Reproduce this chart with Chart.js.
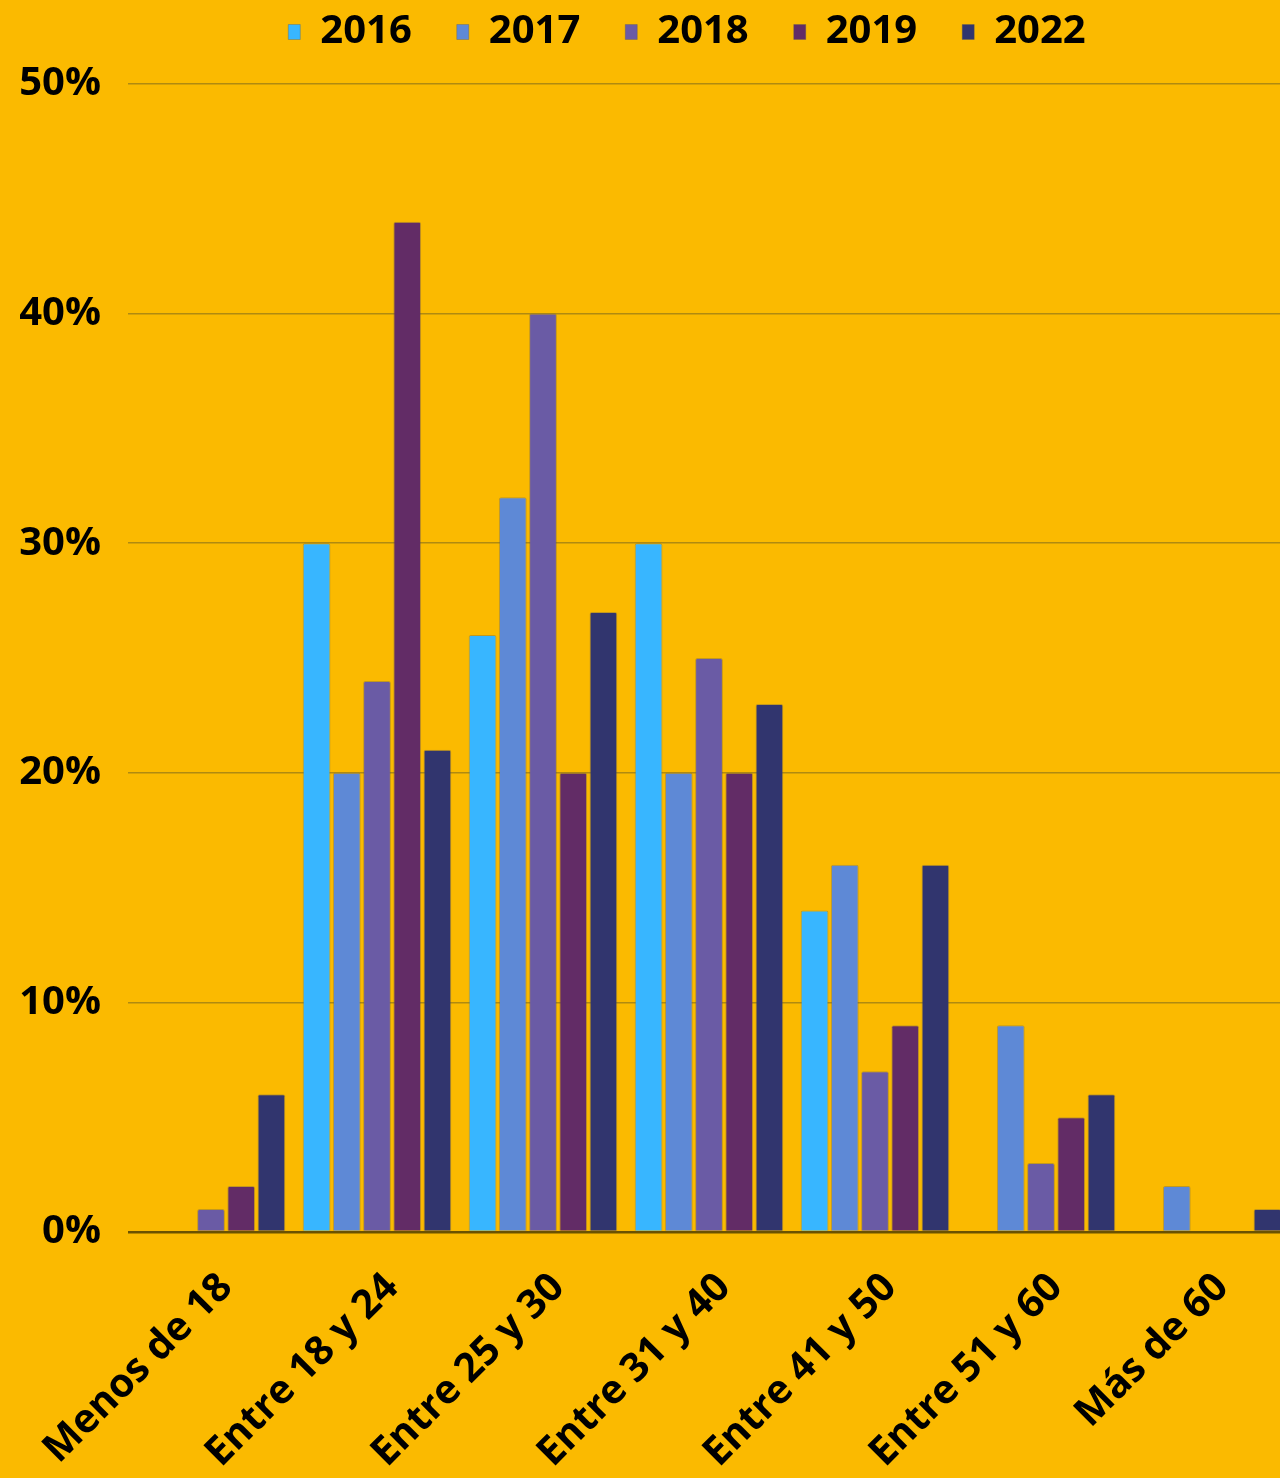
<!DOCTYPE html>
<html>
<head>
<meta charset="utf-8">
<script src="https://cdn.jsdelivr.net/npm/chart.js@4/dist/chart.umd.min.js"></script>
<style>
  html, body { margin:0; padding:0; background:#FBBA00; overflow:hidden; }
  #wrap { position:relative; width:1292px; height:1478px; }
</style>
</head>
<body>
<div id="wrap"><canvas id="grafica"></canvas></div>
<script>
// categorias de edad
const categorias = ['Menos de 18','Entre 18 y 24','Entre 25 y 30','Entre 31 y 40','Entre 41 y 50','Entre 51 y 60','Más de 60']
const anios = ['2016','2017','2018','2019','2022']
// porcentajes por año
const datos2016 = [0, 30, 26, 30, 14, 0, 0]
const datos2017 = [0, 20, 32, 20, 16, 9, 2]
const datos2018 = [1, 24, 40, 25, 7, 3, 0]
const datos2019 = [2, 44, 20, 20, 9, 5, 0]
const datos2022 = [6, 21, 27, 23, 16, 6, 1]
const colores = ['#38B6FF','#5E89D6','#6A5BA5','#622C66','#31356E']
const ticksY = [0, 10, 20, 30, 40, 50]

window.addEventListener('load',()=>{
    const canvas = document.getElementById('grafica')
    const series = [datos2016, datos2017, datos2018, datos2019, datos2022]
    //fondo naranja
    const fondo = {
        id:'fondo',
        beforeDraw(chart){
            const c = chart.ctx
            c.save()
            c.fillStyle = '#FBBA00'
            c.fillRect(0,0,chart.width,chart.height)
            c.restore()
        }
    }
    //las etiquetas giradas del eje x no deben empujar el area del grafico
    const sinPaddingX = {
        id:'sinPaddingX',
        beforeLayout(chart){
            const sx = chart.scales.x
            if(sx) sx.getPadding = ()=>({left:0, top:0, right:0, bottom:0})
        }
    }
    //mover la leyenda un poco (arriba y a la derecha)
    const moverLeyenda = {
        id:'moverLeyenda',
        afterLayout(chart){
            const lg = chart.legend
            if(!lg) return
            lg.left += 32; lg.right += 32
            lg.top -= 22; lg.bottom -= 22
        }
    }
    let datasets = series.map((d,i)=>({
        label:anios[i],
        data:d,
        backgroundColor:colores[i],
        borderColor:'rgba(90,90,90,0.35)',
        borderWidth:1,
        borderRadius:2,
        borderSkipped:'bottom',
        categoryPercentage:0.91,
        barPercentage:0.92
    }))
    let chart = new Chart(canvas.getContext('2d'),{
        type:'bar',
        data:{labels:categorias, datasets:datasets},
        plugins:[fondo, sinPaddingX, moverLeyenda],
        options:{
            responsive:true,
            maintainAspectRatio:false,
            animation:false,
            layout:{padding:{left:20, right:2, top:-11, bottom:0}},
            plugins:{
                tooltip:{enabled:false},
                legend:{
                    position:'top',
                    labels:{
                        color:'#000',
                        boxWidth:12,
                        boxHeight:15,
                        padding:45,
                        font:{family:'"Open Sans"', size:40, weight:'bold'}
                    }
                }
            },
            scales:{
                x:{
                    grid:{display:false},
                    border:{display:false},
                    afterFit:(scale)=>{ scale.height = 246 },
                    ticks:{
                        color:'#000',
                        maxRotation:45,
                        minRotation:45,
                        padding:24,
                        labelOffset:15,
                        font:{family:'"Open Sans"', size:40, weight:'bold'}
                    }
                },
                y:{
                    min:0,
                    max:50,
                    afterBuildTicks:(axis)=>{ axis.ticks = ticksY.map(v=>({value:v})) },
                    afterFit:(scale)=>{ scale.width = 108 },
                    border:{display:false},
                    grid:{
                        drawTicks:false,
                        lineWidth:(ctx)=> ctx.tick && ctx.tick.value===0 ? 2.5 : 1.5,
                        color:(ctx)=> ctx.tick && ctx.tick.value===0 ? '#6B5200' : '#B08A10'
                    },
                    ticks:{
                        color:'#000',
                        padding:27,
                        callback:(v)=> v+'%',
                        font:{family:'"Open Sans"', size:40, weight:'bold'}
                    }
                }
            }
        }
    })
})
</script>
</body>
</html>
